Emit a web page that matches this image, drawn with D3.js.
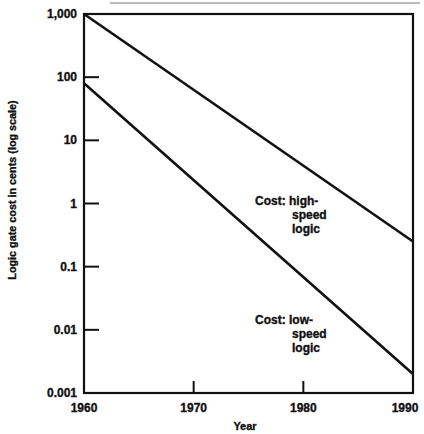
<!DOCTYPE html>
<meta charset="utf-8">
<script src="https://cdn.jsdelivr.net/npm/d3@7"></script>
<style>
body { margin: 0; background: #fff; }
text { font-family: "Liberation Sans", Arial, sans-serif; font-weight: bold; fill: #111; stroke: #111; stroke-width: 0.35px; }
</style>
<body></body>
<script>
// data
var years = [1960, 1970, 1980, 1990];
var yTicks = [1000, 100, 10, 1, 0.1, 0.01, 0.001];
var yTickLabels = ["1,000", "100", "10", "1", "0.1", "0.01", "0.001"];
var highSpeed = [[1960, 1000], [1990, 0.25]];
var lowSpeed = [[1960, 80], [1990, 0.002]];

var W = 424, H = 434;
var svg = d3.select("body").append("svg")
    .attr("width", W)
    .attr("height", H);

var x = d3.scaleLinear().domain([1960, 1990]).range([84, 413]);
var y = d3.scaleLog().domain([0.001, 1000]).range([393, 14]);

// stray page line at very top of scan
svg.append("line")
    .attr("x1", 110).attr("x2", 420)
    .attr("y1", 3).attr("y2", 3)
    .attr("stroke", "#555").attr("stroke-width", 0.8);

// frame
svg.append("rect")
    .attr("x", x(1960)).attr("y", y(1000))
    .attr("width", x(1990) - x(1960))
    .attr("height", y(0.001) - y(1000))
    .attr("fill", "none")
    .attr("stroke", "#111")
    .attr("stroke-width", 2.2);

// y ticks (inward)
svg.selectAll(".ytick").data(yTicks)
  .enter().append("line")
    .attr("class", "ytick")
    .attr("x1", x(1960)).attr("x2", x(1960) + 15)
    .attr("y1", d => y(d)).attr("y2", d => y(d))
    .attr("stroke", "#111").attr("stroke-width", 2);

svg.selectAll(".ylab").data(yTicks)
  .enter().append("text")
    .attr("class", "ylab")
    .attr("x", x(1960) - 7)
    .attr("y", d => y(d) + 4)
    .attr("text-anchor", "end")
    .attr("font-size", "12px")
    .text((d, i) => yTickLabels[i]);

// x ticks (inward)
svg.selectAll(".xtick").data(years)
  .enter().append("line")
    .attr("class", "xtick")
    .attr("x1", d => x(d)).attr("x2", d => x(d))
    .attr("y1", y(0.001)).attr("y2", y(0.001) - 12)
    .attr("stroke", "#111").attr("stroke-width", 2);

svg.selectAll(".xlab").data(years)
  .enter().append("text")
    .attr("class", "xlab")
    .attr("x", d => Math.min(x(d), W - 19))
    .attr("y", 412)
    .attr("text-anchor", "middle")
    .attr("font-size", "12px")
    .text(d => d);

svg.append("text")
    .attr("x", 245).attr("y", 430)
    .attr("text-anchor", "middle")
    .attr("font-size", "11px")
    .text("Year");

svg.append("text")
    .attr("transform", "translate(16,190) rotate(-90)")
    .attr("text-anchor", "middle")
    .attr("font-size", "10.8px")
    .text("Logic gate cost in cents (log scale)");

// cost lines
var line = d3.line()
    .x(d => x(d[0]))
    .y(d => y(d[1]));

[highSpeed, lowSpeed].forEach(function(s) {
  svg.append("path")
      .datum(s)
      .attr("d", line)
      .attr("fill", "none")
      .attr("stroke", "#111")
      .attr("stroke-width", 2.6);
});

// annotations
function note(lines, x0, y0) {
  var t = svg.append("text").attr("font-size", "12px");
  lines.forEach(function(s, i) {
    t.append("tspan")
      .attr("x", i == 0 ? x0 : x0 + 37)
      .attr("y", y0 + i * 14)
      .text(s);
  });
}
note(["Cost: high-", "speed", "logic"], 255, 205);
note(["Cost: low-", "speed", "logic"], 255, 324);
</script>
